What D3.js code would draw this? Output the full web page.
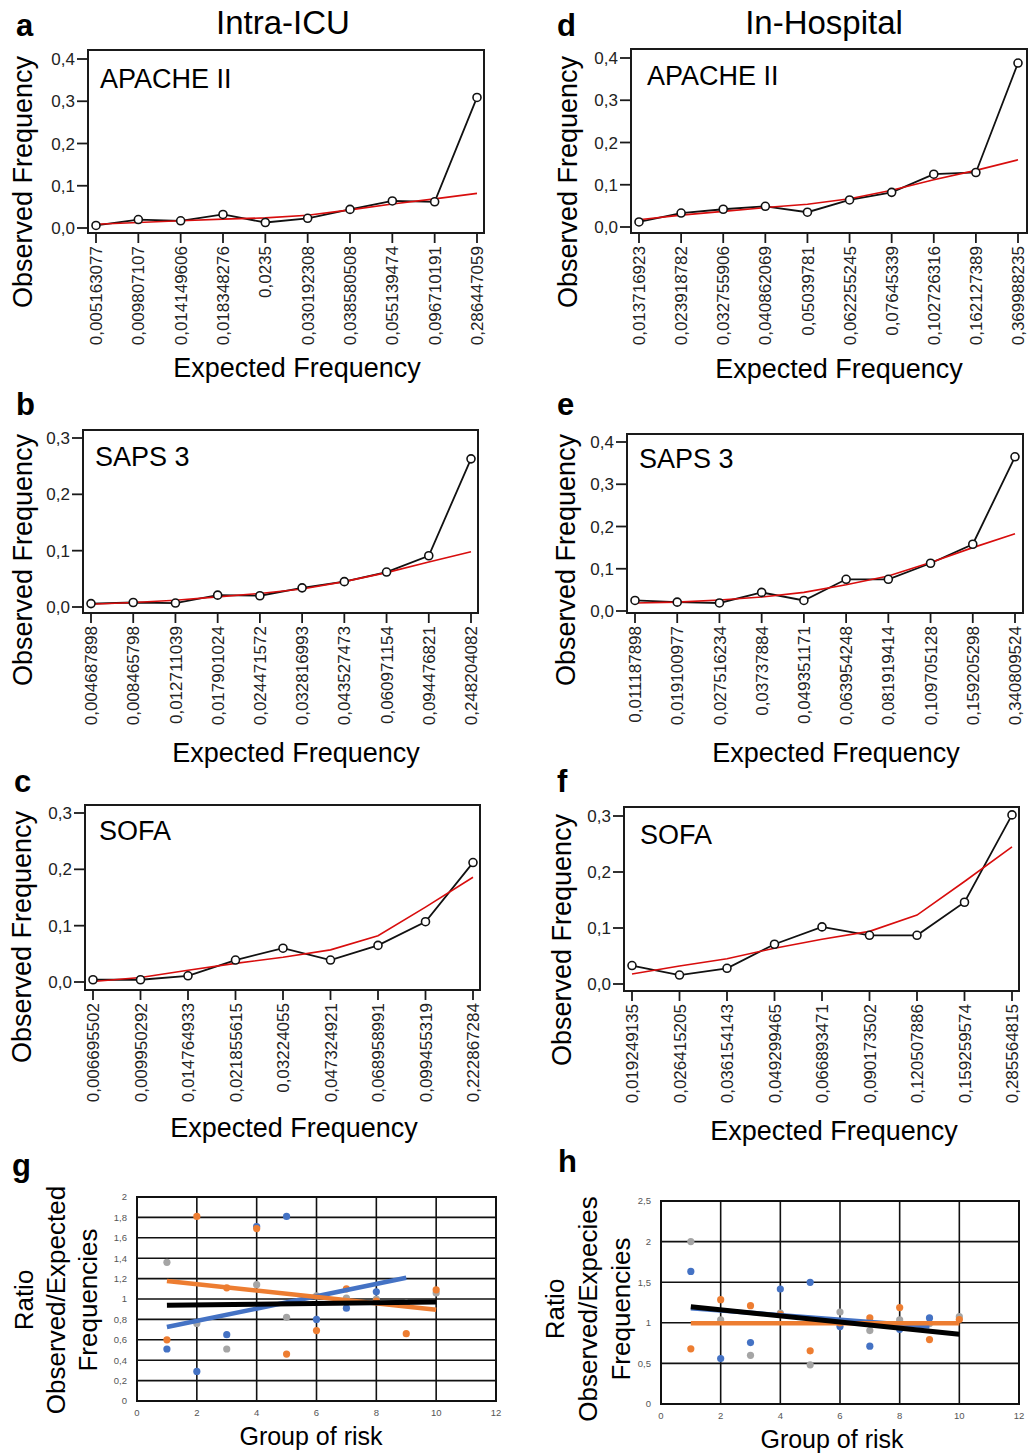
<!DOCTYPE html>
<html><head><meta charset="utf-8">
<script src="https://cdn.jsdelivr.net/npm/d3@7"></script>
<style>body{margin:0;background:#fff} text{font-family:"Liberation Sans",Arial,sans-serif}</style>
</head><body><svg id="c" width="1033" height="1456"></svg>
<script>
// ---------- DATA ----------
const columnTitles = ["Intra-ICU", "In-Hospital"];
const panelLetters = ["a", "b", "c", "d", "e", "f", "g", "h"];
const scoreNames = ["APACHE II", "SAPS 3", "SOFA"];

// (a) Intra-ICU APACHE II
const expA = ["0,005163077","0,009807107","0,014149606","0,018348276","0,0235","0,030192308","0,038580508","0,055139474","0,096710191","0,286447059"];
const obsA = [0.006, 0.020, 0.017, 0.032, 0.013, 0.023, 0.044, 0.064, 0.062, 0.309];
const fitA = [0.009, 0.013, 0.017, 0.021, 0.024, 0.030, 0.043, 0.057, 0.069, 0.082];
// (b) Intra-ICU SAPS 3
const expB = ["0,004687898","0,008465798","0,012711039","0,017901024","0,024471572","0,032816993","0,043527473","0,060971154","0,094476821","0,248204082"];
const obsB = [0.006, 0.008, 0.007, 0.021, 0.020, 0.034, 0.045, 0.062, 0.091, 0.263];
const fitB = [0.005, 0.008, 0.012, 0.018, 0.024, 0.032, 0.045, 0.061, 0.080, 0.098];
// (c) Intra-ICU SOFA
const expC = ["0,006695502","0,009950292","0,014764933","0,021855615","0,03224055","0,047324921","0,068958991","0,099455319","0,222867284"];
const obsC = [0.004, 0.004, 0.011, 0.039, 0.060, 0.039, 0.065, 0.107, 0.212];
const fitC = [0.001, 0.008, 0.021, 0.033, 0.044, 0.057, 0.082, 0.133, 0.186];
// (d) In-Hospital APACHE II
const expD = ["0,013716923","0,023918782","0,032755906","0,040862069","0,05039781","0,062255245","0,07645339","0,102726316","0,162127389","0,369988235"];
const obsD = [0.012, 0.033, 0.042, 0.049, 0.035, 0.064, 0.082, 0.125, 0.129, 0.388];
const fitD = [0.017, 0.028, 0.037, 0.046, 0.054, 0.067, 0.087, 0.112, 0.134, 0.159];
// (e) In-Hospital SAPS 3
const expE = ["0,011187898","0,019100977","0,027516234","0,03737884","0,049351171","0,063954248","0,081919414","0,109705128","0,159205298","0,340809524"];
const obsE = [0.025, 0.021, 0.019, 0.044, 0.025, 0.075, 0.075, 0.113, 0.158, 0.365];
const fitE = [0.019, 0.021, 0.026, 0.033, 0.044, 0.062, 0.083, 0.115, 0.150, 0.183];
// (f) In-Hospital SOFA
const expF = ["0,019249135","0,026415205","0,036154143","0,049299465","0,066893471","0,090173502","0,120507886","0,159259574","0,285564815"];
const obsF = [0.033, 0.016, 0.028, 0.071, 0.102, 0.087, 0.087, 0.146, 0.302];
const fitF = [0.018, 0.032, 0.045, 0.064, 0.080, 0.094, 0.123, 0.183, 0.245];

const yMaxCal = [0.4, 0.3, 0.3, 0.4, 0.4, 0.3];

// (g) Intra-ICU ratios, groups 1..10
const riskGroups = [1, 2, 3, 4, 5, 6, 7, 8, 9, 10];
const gGray   = [1.36, 0.76, 0.51, 1.14, 0.82, 1.03, 1.01, 1.00, 0.96, 1.06];
const gBlue   = [0.51, 0.29, 0.65, 1.71, 1.81, 0.80, 0.91, 1.07, 0.95];
const gOrange = [0.60, 1.81, 1.11, 1.69, 0.46, 0.69, 1.10, 0.98, 0.66, 1.09];
const gTrendBlue   = [[1, 0.725], [9, 1.209]];
const gTrendOrange = [[1, 1.176], [10, 0.895]];
const gTrendBlack  = [[1, 0.938], [10, 0.971]];
// (h) In-Hospital ratios
const hGray   = [2.00, 1.035, 0.60, 1.12, 0.483, 1.133, 0.904, 1.035, 0.99, 1.076];
const hBlue   = [1.633, 0.56, 0.757, 1.416, 1.498, 0.953, 0.712, 0.92, 1.06];
const hOrange = [0.679, 1.285, 1.211, 1.10, 0.655, 1.00, 1.06, 1.187, 0.794, 1.04];
const hTrendBlue   = [[1, 1.18], [9, 0.953]];
const hTrendOrange = [[1, 0.994], [10, 0.994]];
const hTrendBlack  = [[1, 1.199], [10, 0.859]];

const xTicksRatio = [0, 2, 4, 6, 8, 10, 12];
const yTicksG = [0, 0.2, 0.4, 0.6, 0.8, 1, 1.2, 1.4, 1.6, 1.8, 2];
const yTicksH = [0, 0.5, 1, 1.5, 2, 2.5];

// ---------- LAYOUT ----------
const svg = d3.select("#c");
const comma = v => String(v).replace(".", ",");
const f1 = v => d3.format(".1f")(v).replace(".", ",");

svg.append("text").attr("x", 283).attr("y", 34).attr("text-anchor", "middle").attr("font-size", 33).text(columnTitles[0]);
svg.append("text").attr("x", 824).attr("y", 34).attr("text-anchor", "middle").attr("font-size", 33).text(columnTitles[1]);

const calPanels = [
  {L:"a", lp:[16,36], box:[88,50,484,233], yr:[228,59], xr:[96,477], exp:expA, obs:obsA, fit:fitA, ym:yMaxCal[0], name:scoreNames[0], np:[100,88], yl:[32,182], xl:[297,377]},
  {L:"b", lp:[16,415], box:[83,430,478,613], yr:[607,438], xr:[91,471], exp:expB, obs:obsB, fit:fitB, ym:yMaxCal[1], name:scoreNames[1], np:[95,466], yl:[32,560], xl:[296,762]},
  {L:"c", lp:[14,792], box:[85,805,480,990], yr:[982,813], xr:[93,473], exp:expC, obs:obsC, fit:fitC, ym:yMaxCal[2], name:scoreNames[2], np:[99,840], yl:[31,937], xl:[294,1137]},
  {L:"d", lp:[557,36], box:[631,49,1027,233], yr:[227,58], xr:[639,1018], exp:expD, obs:obsD, fit:fitD, ym:yMaxCal[3], name:scoreNames[0], np:[647,85], yl:[577,182], xl:[839,378]},
  {L:"e", lp:[557,415], box:[627,434,1023,613], yr:[611,442], xr:[635,1015], exp:expE, obs:obsE, fit:fitE, ym:yMaxCal[4], name:scoreNames[1], np:[639,468], yl:[575,560], xl:[836,762]},
  {L:"f", lp:[557,792], box:[624,807,1019,991], yr:[984,816], xr:[632,1012], exp:expF, obs:obsF, fit:fitF, ym:yMaxCal[5], name:scoreNames[2], np:[640,844], yl:[571,940], xl:[834,1140]}
];

calPanels.forEach(p => {
  const g = svg.append("g");
  const [x0, y0, x1, y1] = p.box;
  const x = d3.scalePoint().domain(p.exp).range(p.xr);
  const y = d3.scaleLinear().domain([0, p.ym]).range(p.yr);
  g.append("rect").attr("x", x0).attr("y", y0).attr("width", x1 - x0).attr("height", y1 - y0)
    .attr("fill", "#fff").attr("stroke", "#1a1a1a").attr("stroke-width", 2);
  const yt = d3.range(0, p.ym + 1e-9, 0.1);
  yt.forEach(v => {
    g.append("line").attr("x1", x0 - 11).attr("x2", x0).attr("y1", y(v)).attr("y2", y(v)).attr("stroke", "#1a1a1a").attr("stroke-width", 1.8);
    g.append("text").attr("x", x0 - 13).attr("y", y(v)).attr("dy", "0.36em").attr("text-anchor", "end")
      .attr("font-size", 17).attr("fill", "#222").text(f1(v));
  });
  p.exp.forEach(lbl => {
    g.append("line").attr("x1", x(lbl)).attr("x2", x(lbl)).attr("y1", y1).attr("y2", y1 + 10).attr("stroke", "#1a1a1a").attr("stroke-width", 1.8);
    g.append("text").attr("transform", `translate(${x(lbl)},${y1 + 13}) rotate(-90)`).attr("dy", "0.36em")
      .attr("text-anchor", "end").attr("font-size", 17).attr("fill", "#222").text(lbl);
  });
  const idx = p.exp.map((d, i) => i);
  const line = d3.line().x(i => x(p.exp[i]));
  g.append("path").attr("d", line.y(i => y(p.obs[i]))(idx)).attr("fill", "none").attr("stroke", "#111").attr("stroke-width", 1.8);
  g.append("path").attr("d", line.y(i => y(p.fit[i]))(idx)).attr("fill", "none").attr("stroke", "#d80d0d").attr("stroke-width", 1.6);
  g.selectAll("circle").data(idx).join("circle").attr("cx", i => x(p.exp[i])).attr("cy", i => y(p.obs[i]))
    .attr("r", 4).attr("fill", "#fff").attr("stroke", "#111").attr("stroke-width", 1.6);
  g.append("text").attr("x", p.np[0]).attr("y", p.np[1]).attr("font-size", 27).text(p.name);
  g.append("text").attr("transform", `translate(${p.yl[0]},${p.yl[1]}) rotate(-90)`).attr("text-anchor", "middle").attr("font-size", 27).text("Observed Frequency");
  g.append("text").attr("x", p.xl[0]).attr("y", p.xl[1]).attr("text-anchor", "middle").attr("font-size", 27).text("Expected Frequency");
  g.append("text").attr("x", p.lp[0]).attr("y", p.lp[1]).attr("font-size", 31).attr("font-weight", "bold").text(p.L);
});

const ratioPanels = [
  {L:"h", lp:[558,1172], box:[661,1201,1019,1404], ym:2.5, yt:yTicksH, gray:hGray, blue:hBlue, orange:hOrange,
   tb:hTrendBlue, to:hTrendOrange, tk:hTrendBlack, yl:[564,597,630], yc:1309, yLine2:"Observed/Expecies", xl:[832,1448]},
  {L:"g", lp:[12,1176], box:[137,1197,496,1401], ym:2, yt:yTicksG, gray:gGray, blue:gBlue, orange:gOrange,
   tb:gTrendBlue, to:gTrendOrange, tk:gTrendBlack, yl:[33,65,97], yc:1300, yLine2:"Observed/Expected", xl:[311,1445]}
];

ratioPanels.forEach(p => {
  const g = svg.append("g");
  const [x0, y0, x1, y1] = p.box;
  const x = d3.scaleLinear().domain([0, 12]).range([x0, x1]);
  const y = d3.scaleLinear().domain([0, p.ym]).range([y1, y0]);
  p.yt.forEach(v => {
    g.append("line").attr("x1", x0).attr("x2", x1).attr("y1", y(v)).attr("y2", y(v)).attr("stroke", "#111").attr("stroke-width", 1.6);
    g.append("text").attr("x", x0 - 10).attr("y", y(v)).attr("dy", "0.35em").attr("text-anchor", "end")
      .attr("font-size", 9.5).attr("fill", "#555").text(comma(v));
  });
  xTicksRatio.forEach(v => {
    g.append("line").attr("x1", x(v)).attr("x2", x(v)).attr("y1", y0).attr("y2", y1).attr("stroke", "#111").attr("stroke-width", 1.6);
    g.append("text").attr("x", x(v)).attr("y", y1 + 15).attr("text-anchor", "middle")
      .attr("font-size", 9.5).attr("fill", "#555").text(v);
  });
  g.append("rect").attr("x", x0).attr("y", y0).attr("width", x1 - x0).attr("height", y1 - y0)
    .attr("fill", "none").attr("stroke", "#111").attr("stroke-width", 2);
  const pts = (arr, col) => g.append("g").selectAll("circle").data(arr.map((v, i) => [riskGroups[i], v]))
    .join("circle").attr("cx", d => x(d[0])).attr("cy", d => y(d[1])).attr("r", 3.6).attr("fill", col);
  pts(p.gray, "#a5a5a5");
  pts(p.blue, "#4472c4");
  pts(p.orange, "#ed7d31");
  const ln = d3.line().x(d => x(d[0])).y(d => y(d[1]));
  g.append("path").attr("d", ln(p.tb)).attr("stroke", "#4472c4").attr("stroke-width", 4.5).attr("fill", "none");
  g.append("path").attr("d", ln(p.to)).attr("stroke", "#ed7d31").attr("stroke-width", 4.5).attr("fill", "none");
  g.append("path").attr("d", ln(p.tk)).attr("stroke", "#000").attr("stroke-width", 5).attr("fill", "none");
  const lines = ["Ratio", p.yLine2, "Frequencies"];
  lines.forEach((t, i) => {
    g.append("text").attr("transform", `translate(${p.yl[i]},${p.yc}) rotate(-90)`).attr("text-anchor", "middle")
      .attr("font-size", 26).text(t);
  });
  g.append("text").attr("x", p.xl[0]).attr("y", p.xl[1]).attr("text-anchor", "middle").attr("font-size", 25).text("Group of risk");
  g.append("text").attr("x", p.lp[0]).attr("y", p.lp[1]).attr("font-size", 31).attr("font-weight", "bold").text(p.L);
});
</script></body></html>
